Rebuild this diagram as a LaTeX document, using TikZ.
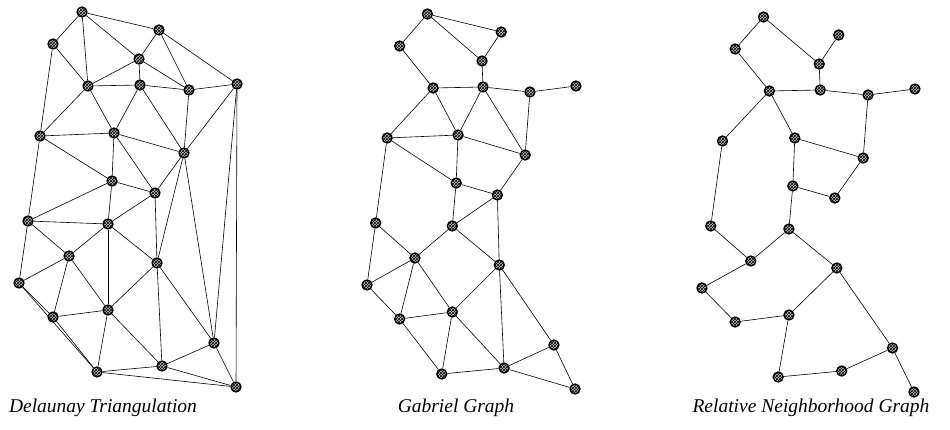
\documentclass[tikz,border=0pt]{standalone}
\usepackage{fontspec}
\setmainfont{Liberation Serif}
\usepackage{tikz}
\usetikzlibrary{patterns}

% the same 24 points are used in all three graphs
\newcommand{\placepoints}{%
	\foreach \n/\px/\py in {1/82/12, 2/53/44, 3/159/30, 4/139/59, 5/88/86, 6/140/85,
		7/189/90, 8/237/84, 9/40/136, 10/114/133, 11/184/153, 12/112/181,
		13/155/193, 14/28/221, 15/108/224, 16/69/256, 17/157/263, 18/19/283,
		19/108/310, 20/53/317, 21/214/343, 22/162/366, 23/97/372, 24/236/387}
		\node[dot] (p\n) at (\px,\py) {};%
}

\begin{document}
\begin{tikzpicture}[x=1pt, y=-1pt,
	dot/.style={circle, draw, line width=1.3pt, inner sep=0pt, minimum size=10pt,
		preaction={fill=gray!45}, pattern=crosshatch},
	edge/.style={line width=0.6pt},
	caption/.style={font=\fontsize{19.5}{22}\selectfont\itshape}]
	\useasboundingbox (0,0) rectangle (950,430);
	% Delaunay triangulation
	\begin{scope}[name prefix=dt-]
		\placepoints
		\foreach \a/\b in {1/2, 1/3, 1/4, 1/5, 2/5, 2/9, 3/4, 3/7, 3/8, 4/5, 4/6, 4/7,
			5/6, 5/9, 5/10, 6/7, 6/10, 6/11, 7/8, 7/11, 8/11, 8/21, 8/24,
			9/10, 9/12, 9/14, 10/11, 10/12, 10/13, 11/13, 11/17, 11/21,
			12/13, 12/14, 12/15, 13/15, 13/17, 14/15, 14/16, 14/18,
			15/16, 15/17, 15/19, 16/18, 16/19, 16/20, 17/19, 17/21, 17/22,
			18/20, 18/23, 19/20, 19/22, 19/23, 20/23, 21/22, 21/24,
			22/23, 22/24, 23/24}
			\draw[edge] (p\a) -- (p\b);
	\end{scope}
	% Gabriel graph
	\begin{scope}[shift={(348.8,2)}, xscale=0.9585, name prefix=gg-]
		\placepoints
		\foreach \a/\b in {1/2, 1/3, 1/4, 3/4, 2/5, 4/6, 5/6, 6/7, 7/8, 5/9, 5/10,
			6/10, 6/11, 9/10, 10/11, 7/11, 9/12, 10/12, 11/13, 9/14, 12/13,
			12/15, 13/15, 13/17, 14/16, 14/18, 15/16, 15/17, 16/18, 16/19,
			16/20, 17/19, 17/21, 17/22, 18/20, 19/20, 19/22, 19/23, 20/23,
			21/22, 21/24, 22/23, 22/24}
			\draw[edge] (p\a) -- (p\b);
	\end{scope}
	% Relative neighborhood graph
	\begin{scope}[shift={(683.4,5)}, xscale=0.977, name prefix=rn-]
		\placepoints
		\foreach \a/\b in {1/2, 1/4, 3/4, 4/6, 2/5, 5/6, 6/7, 7/8, 5/9, 5/10, 10/11,
			7/11, 10/12, 12/13, 11/13, 9/14, 12/15, 14/16, 15/16, 15/17,
			16/18, 18/20, 17/19, 19/20, 19/23, 17/21, 21/22, 22/23, 21/24}
			\draw[edge] (p\a) -- (p\b);
	\end{scope}
	% Labels
	\node[caption] (dtcap) at (103,408) {Delaunay Triangulation};
	\node[caption] (ggcap) at (456,408) {Gabriel Graph};
	\node[caption] (rncap) at (811,408) {Relative Neighborhood Graph};
\end{tikzpicture}
\end{document}
